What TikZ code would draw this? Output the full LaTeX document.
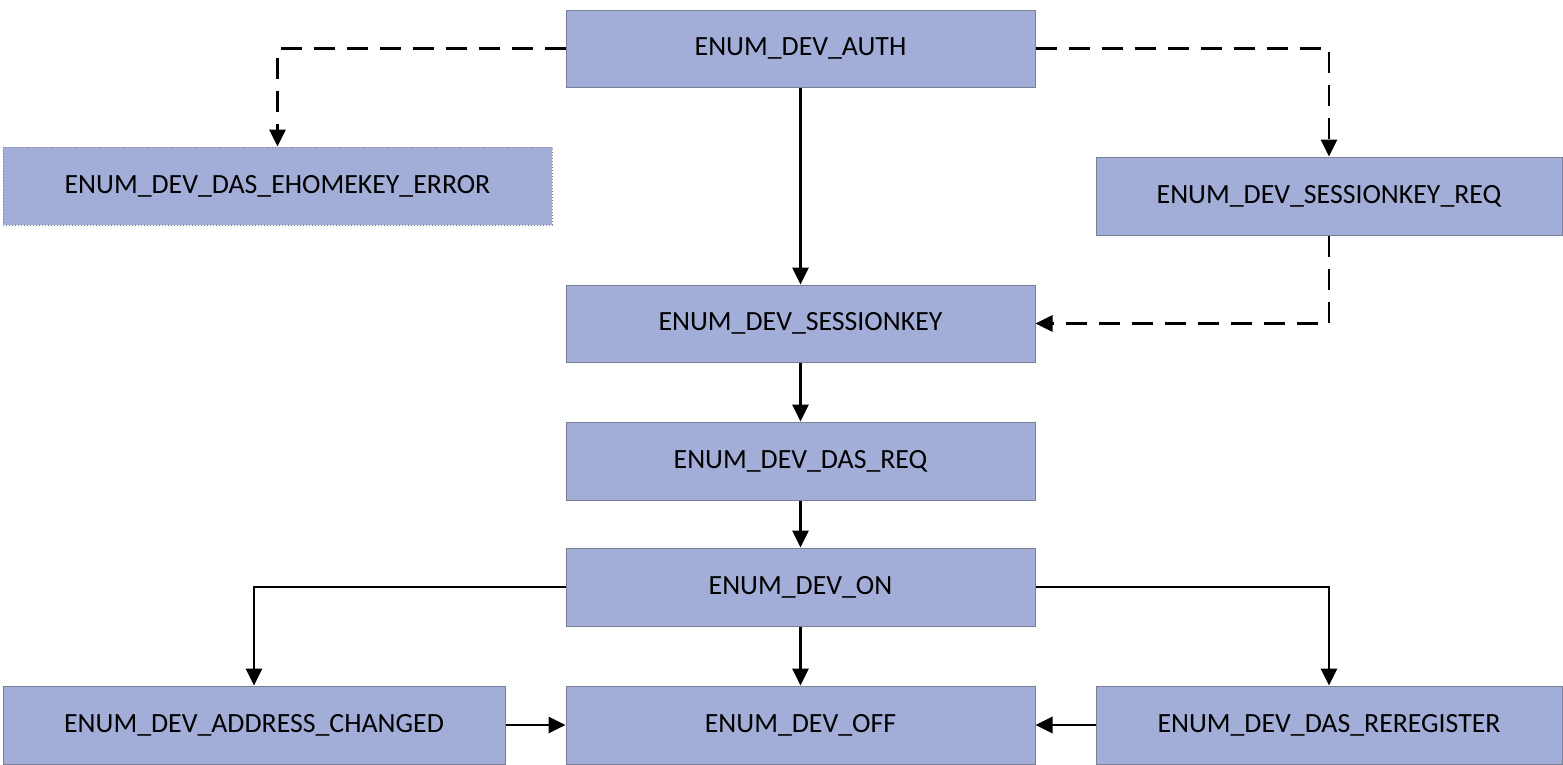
\documentclass[tikz,border=0pt]{standalone}
\usepackage{fontspec}
\setmainfont{Carlito}
\usetikzlibrary{arrows.meta}
\definecolor{boxfill}{HTML}{A3AED8}
\definecolor{boxline}{HTML}{7A7F98}
\tikzset{
  statebox/.style={rectangle, draw=boxline, line width=1pt, fill=boxfill, inner sep=0pt,
    font=\fontsize{27.8}{32}\selectfont, text=black},
  conn/.style={line width=2.8pt, -{Triangle[length=17pt,width=16pt]}},
  dconn/.style={conn, dash pattern=on 21pt off 12pt},
}
\begin{document}
\begin{tikzpicture}[x=1pt,y=-1pt]
\useasboundingbox (0,0) rectangle (1563,764);
\node[statebox, minimum width=469pt, minimum height=77pt] (auth) at (800.5,48.5) {ENUM\_DEV\_AUTH};
\node[statebox, minimum width=549pt, minimum height=78pt, dotted] (err) at (277.5,186) {ENUM\_DEV\_DAS\_EHOMEKEY\_ERROR};
\node[statebox, minimum width=466pt, minimum height=78pt] (skreq) at (1329,196) {ENUM\_DEV\_SESSIONKEY\_REQ};
\node[statebox, minimum width=469pt, minimum height=77pt] (sk) at (800.5,323.5) {ENUM\_DEV\_SESSIONKEY};
\node[statebox, minimum width=469pt, minimum height=78pt] (dasreq) at (800.5,461) {ENUM\_DEV\_DAS\_REQ};
\node[statebox, minimum width=469pt, minimum height=78pt] (on) at (800.5,587) {ENUM\_DEV\_ON};
\node[statebox, minimum width=502pt, minimum height=78pt] (addr) at (254,725) {ENUM\_DEV\_ADDRESS\_CHANGED};
\node[statebox, minimum width=469pt, minimum height=78pt] (off) at (800.5,725) {ENUM\_DEV\_OFF};
\node[statebox, minimum width=466pt, minimum height=78pt] (rereg) at (1329,725) {ENUM\_DEV\_DAS\_REREGISTER};

\draw[dconn] (auth.west) -| (err.north);
\draw[dconn] (auth.east) -| (skreq.north);
\draw[conn] (auth.south) -- (sk.north);
\draw[dconn] (skreq.south) |- (sk.east);
\draw[conn] (sk.south) -- (dasreq.north);
\draw[conn] (dasreq.south) -- (on.north);
\draw[conn] (on.west) -| (addr.north);
\draw[conn] (on.south) -- (off.north);
\draw[conn] (on.east) -| (rereg.north);
\draw[conn] (addr.east) -- (off.west);
\draw[conn] (rereg.west) -- (off.east);
\end{tikzpicture}
\end{document}
